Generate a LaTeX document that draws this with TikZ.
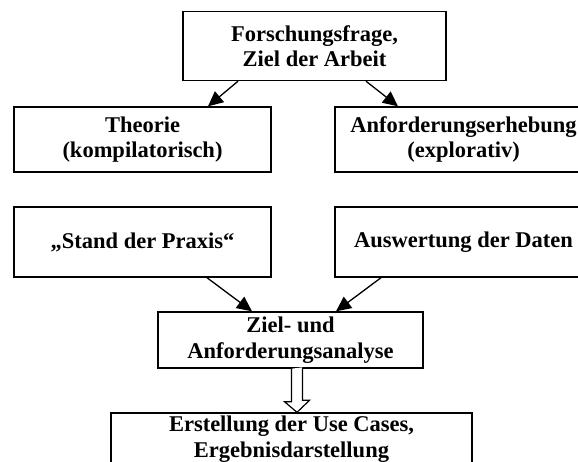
\documentclass[tikz,border=0pt]{standalone}
\usepackage{fontspec}
\setmainfont{Liberation Serif}
\usetikzlibrary{arrows.meta}

\begin{document}
\begin{tikzpicture}[x=1pt, y=-1pt,
    kasten/.style={draw, line width=1.4pt, align=center, inner sep=2pt,
      font=\bfseries\fontsize{22.5}{25.5}\selectfont},
    pfeil/.style={line width=1.3pt, -{Triangle[length=15pt, width=14pt]}},
    hohlpfeil/.style={line width=1.2pt, fill=white, line join=miter}]
              \useasboundingbox (0,0) rectangle (578,461);

              \node[kasten, minimum width=263pt, minimum height=69pt] (frage) at (314.5,46) {Forschungsfrage,\\Ziel der Arbeit};
              \node[kasten, minimum width=257pt, minimum height=65pt] (theorie) at (142.5,139.5) {Theorie\\(kompilatorisch)};
              \node[kasten, minimum width=257pt, minimum height=65pt] (erhebung) at (463.5,139.5) {Anforderungserhebung\\(explorativ)};
              \node[kasten, minimum width=257pt, minimum height=70pt] (praxis) at (142.5,242) {„Stand der Praxis“};
              \node[kasten, minimum width=257pt, minimum height=70pt] (daten) at (463.5,242) {Auswertung der Daten};
              \node[kasten, minimum width=265pt, minimum height=56pt] (analyse) at (290.5,340) {Ziel- und\\Anforderungsanalyse};
              \node[kasten, minimum width=361pt, minimum height=52pt] (usecases) at (291.5,439) {Erstellung der Use Cases,\\Ergebnisdarstellung};

              % obere Pfeile
              \draw[pfeil] ([xshift=-76.5pt]frage.south) -- ([xshift=65.5pt]theorie.north);
              \draw[pfeil] ([xshift=51.5pt]frage.south) -- ([xshift=-65.5pt]erhebung.north);

              % untere Pfeile
              \draw[pfeil] ([xshift=64.5pt]praxis.south) -- ([xshift=-38.5pt]analyse.north);
              \draw[pfeil] ([xshift=-82.5pt]daten.south) -- ([xshift=45.5pt]analyse.north);

              %\draw[double, ->] (analyse) -- (usecases);
              \draw[hohlpfeil] ([xshift=1pt]analyse.south) -- ++(0,33) -- ++(-7,0)
                -- ([xshift=5.5pt]usecases.north) -- ++(12.5,-12) -- ++(-7,0) -- ++(0,-33);

\end{tikzpicture}
\end{document}
